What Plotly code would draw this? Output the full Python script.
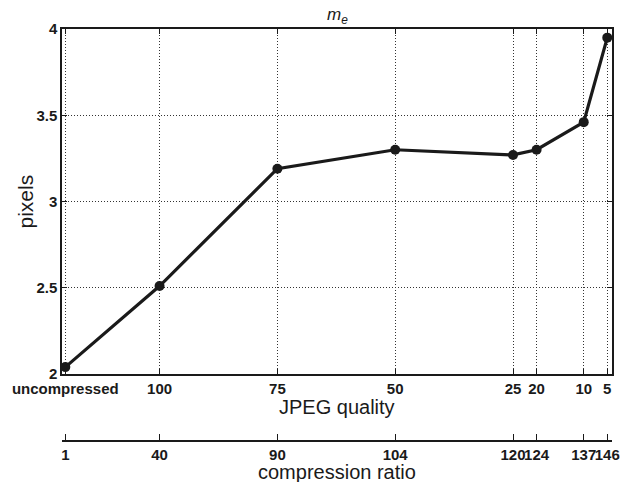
import plotly.graph_objects as go

# data
quality_pos = [120, 100, 75, 50, 25, 20, 10, 5]
quality_labels = ["uncompressed", "100", "75", "50", "25", "20", "10", "5"]
compression_labels = ["1", "40", "90", "104", "120", "124", "137", "146"]
pixels = [2.04, 2.51, 3.19, 3.30, 3.27, 3.30, 3.46, 3.95]

XR = [120.7, 4.0]
FONT = "Liberation Sans, Arial, sans-serif"
INK = "#1a1a1a"

fig = go.Figure()
fig.add_trace(go.Scatter(
    x=quality_pos, y=pixels, mode="lines+markers",
    line=dict(color=INK, width=3.2),
    marker=dict(color=INK, size=10),
    showlegend=False, xaxis="x", yaxis="y"))
fig.add_trace(go.Scatter(x=quality_pos, y=[0] * len(quality_pos), mode="none",
                         showlegend=False, hoverinfo="skip", xaxis="x2", yaxis="y2"))

H_TOP, H_BOT = 29, 440
main_bottom = 374
dom0 = (H_BOT - main_bottom) / (H_BOT - H_TOP)

tickfont = dict(size=15, family=FONT, weight="bold", color=INK)
grid = dict(showgrid=True, gridcolor="#333", griddash="1px,2px", gridwidth=1)

fig.update_layout(
    width=633, height=482,
    margin=dict(l=62, r=21, t=H_TOP, b=482 - H_BOT),
    paper_bgcolor="white", plot_bgcolor="white",
    font=dict(family=FONT, color=INK),
    xaxis=dict(
        range=XR, tickvals=quality_pos, ticktext=quality_labels, tickangle=0,
        showline=True, linecolor=INK, linewidth=1.5, mirror="ticks",
        ticks="inside", ticklen=5, tickcolor=INK, tickfont=tickfont,
        zeroline=False, anchor="y", **grid),
    yaxis=dict(
        range=[2, 4], domain=[dom0, 1], tickvals=[2, 2.5, 3, 3.5, 4],
        ticktext=["2", "2.5", "3", "3.5", "4"],
        showline=True, linecolor=INK, linewidth=1.5, mirror="ticks",
        ticks="inside", ticklen=5, tickcolor=INK, tickfont=tickfont,
        zeroline=False, anchor="x", **grid),
    xaxis2=dict(
        range=XR, tickvals=[XR[0]] + quality_pos, ticktext=[""] + compression_labels,
        tickangle=0, showgrid=False, showline=True, linecolor=INK, linewidth=1.5,
        ticks="inside", ticklen=6, tickcolor=INK, tickfont=tickfont,
        zeroline=False, anchor="y2"),
    yaxis2=dict(domain=[0, 0.001], visible=False, range=[0, 1], anchor="x2"),
    annotations=[
        dict(text="<i>m</i><sub><i>e</i></sub>", x=0.5, y=1, xref="paper", yref="paper",
             yanchor="middle", yshift=13, showarrow=False, font=dict(size=17, family=FONT)),
        dict(text="JPEG quality", x=0.5, y=dom0, xref="paper", yref="paper",
             yanchor="middle", yshift=-33, showarrow=False, font=dict(size=20, family=FONT)),
        dict(text="compression ratio", x=0.5, y=0, xref="paper", yref="paper",
             yanchor="middle", yshift=-32, showarrow=False, font=dict(size=20, family=FONT)),
        dict(text="pixels", x=0, y=(dom0 + 1) / 2, xref="paper", yref="paper",
             xanchor="center", yanchor="middle", xshift=-37, textangle=-90,
             showarrow=False, font=dict(size=21, family=FONT)),
    ],
)

fig.write_html("out.html", config={"displayModeBar": False},
               post_script="document.body.style.margin='0';document.body.style.overflow='hidden';")
